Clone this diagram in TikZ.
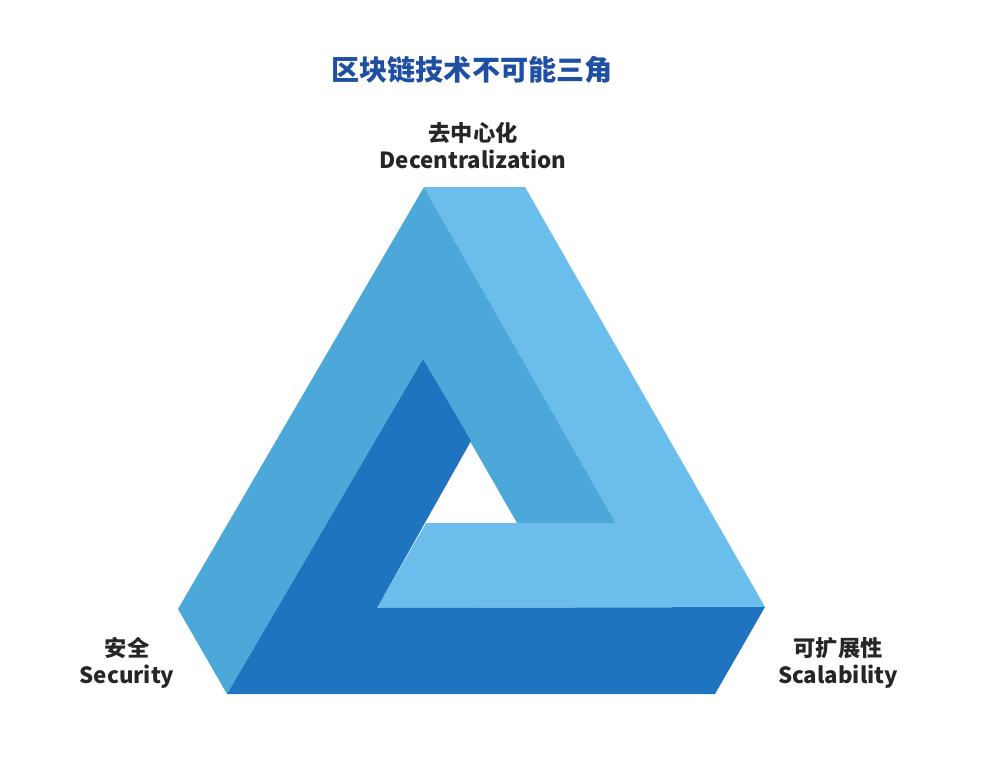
\documentclass[tikz,border=0pt]{standalone}
\usepackage{fontspec}
\setmainfont{Noto Sans CJK SC}
\usepackage{tikz}

\definecolor{lightblue}{HTML}{6BBEEB}
\definecolor{midblue}{HTML}{4DA8DA}
\definecolor{darkblue}{HTML}{1F74C0}
\definecolor{titleblue}{HTML}{1E4FA3}

\begin{document}
\begin{tikzpicture}[x=0.03cm,y=-0.03cm]

  %Styles for picture
  \tikzset
  {
  label/.style={align=center, font=\fontsize{19}{23}\selectfont\bfseries, text=black!85, inner sep=0pt},
  title/.style={font=\fontsize{24}{28}\selectfont\bfseries, text=titleblue, inner sep=0pt},
  }

  \useasboundingbox (0,0) rectangle (1004,776);

  % Faces
  \fill[midblue] (178,609) -- (424,187) -- (616,523) -- (517,523) -- (423,359) -- (227,694) -- cycle;
  \fill[lightblue] (424,187) -- (525,187) -- (765,607) -- (377,608) -- (426,523) -- (616,523) -- cycle;
  \fill[darkblue] (227,694) -- (423,359) -- (471,441) -- (377,608) -- (765,607) -- (715,694) -- cycle;

  % Texts
  \node[title] (title) at (472,70) {区块链技术不可能三角};
  \node[label] (top) at (473,146) {去中心化\\Decentralization};
  \node[label] (left) at (127,663) {安全\\Security};
  \node[label] (right) at (838,663) {可扩展性\\Scalability};
\end{tikzpicture}
\end{document}
